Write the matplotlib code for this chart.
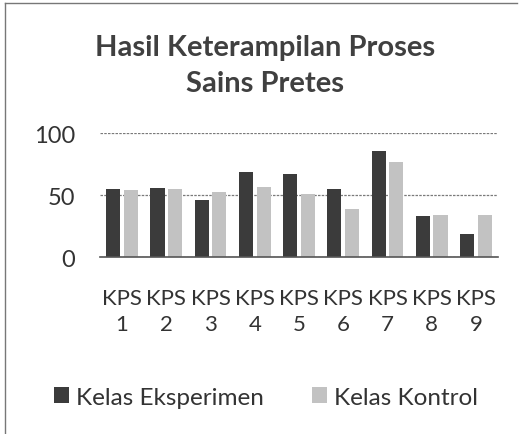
import matplotlib.pyplot as plt
import numpy as np
from matplotlib.lines import Line2D

kategori = ['KPS\n1', 'KPS\n2', 'KPS\n3', 'KPS\n4', 'KPS\n5', 'KPS\n6', 'KPS\n7', 'KPS\n8', 'KPS\n9']
eksperimen = [55, 56, 46, 69, 67, 55, 86, 33, 19]
kontrol = [54, 55, 53, 57, 51, 39, 77, 34, 34]
yticks = [0, 50, 100]

plt.rcParams['font.family'] = ['Lato', 'DejaVu Sans']

fig = plt.figure(figsize=(5.22, 4.35), dpi=100)
ax = fig.add_axes([0.1916, 0.406, 0.7624, 0.285])

x = np.arange(len(kategori))
w = 0.32
ax.bar(x - 0.2, eksperimen, w, color='#3b3b3b', label='Kelas Eksperimen', zorder=3)
ax.bar(x + 0.2, kontrol, w, color='#c2c2c2', label='Kelas Kontrol', zorder=3)

ax.set_xlim(-0.5, len(kategori) - 0.5)
ax.set_ylim(0, 100)
ax.set_yticks(yticks)
ax.set_yticklabels([str(v) for v in yticks], fontsize=17, color='#333333')
ax.set_xticks(x)
ax.set_xticklabels(kategori, fontsize=16, color='#333333', linespacing=1.4)
ax.tick_params(length=0)
ax.tick_params(axis='y', pad=18)
ax.tick_params(axis='x', pad=22)
ax.yaxis.grid(True, color='#7a7a7a', linestyle=(0, (2, 1)), linewidth=0.9, zorder=0)
for s in ['top', 'right', 'left']:
    ax.spines[s].set_visible(False)
ax.spines['bottom'].set_color('#555555')
ax.spines['bottom'].set_linewidth(1.2)
ax.spines['bottom'].set_zorder(4)

fig.text(0.508, 0.848, 'Hasil Keterampilan Proses\nSains Pretes', ha='center', va='center',
         fontsize=21, fontweight='bold', color='#404040', linespacing=1.5)

fig.legend(loc='center', bbox_to_anchor=(0.51, 0.085), ncol=2, frameon=False,
           fontsize=17.5, handlelength=0.6, handleheight=0.6, handletextpad=0.3,
           columnspacing=2.0, labelcolor='#333333')

fig.add_artist(Line2D([0.01, 0.01], [0.0, 0.99], transform=fig.transFigure, color='#777777', linewidth=1))
fig.add_artist(Line2D([0.01, 0.99], [0.99, 0.99], transform=fig.transFigure, color='#777777', linewidth=1))

fig.savefig('out.png', dpi=100, facecolor='white')
